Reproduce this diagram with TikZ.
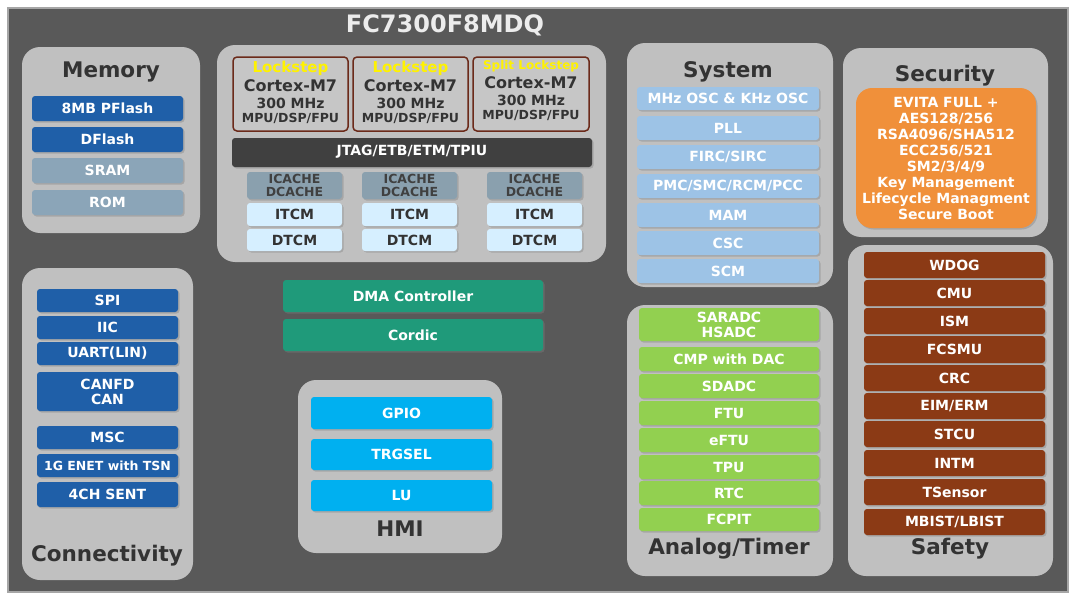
\documentclass[tikz,border=0pt]{standalone}
\usepackage{fontspec}
\setmainfont{DejaVu Sans}
\usetikzlibrary{shadows}
\definecolor{bgdark}{HTML}{595959}
\definecolor{panel}{HTML}{C0C0C0}
\definecolor{dblue}{HTML}{1F5FA8}
\definecolor{gblue}{HTML}{8BA5B8}
\definecolor{cache}{HTML}{8AA0AE}
\definecolor{tcm}{HTML}{D6EFFF}
\definecolor{teal}{HTML}{1F9A7A}
\definecolor{cyanb}{HTML}{00B0F0}
\definecolor{lblue}{HTML}{9DC3E6}
\definecolor{lgreen}{HTML}{92D050}
\definecolor{orng}{HTML}{F0903A}
\definecolor{brn}{HTML}{8B3A15}
\definecolor{corebd}{HTML}{6B2A1A}
\begin{document}
\begin{tikzpicture}[x=1pt,y=-1pt,
  pan/.style={fill=panel,rounded corners=18pt,draw=none},
  bx/.style={rounded corners=3pt,drop shadow={shadow xshift=1.5pt,shadow yshift=-1.5pt,opacity=.4},inner sep=0pt},
  ttl/.style={font=\bfseries\fontsize{21.5}{23}\selectfont,text=black!80},
  ct/.style={inner sep=0pt,text=black!80},
]
\useasboundingbox (0,0) rectangle (1080,605);
\fill[white] (0,0) rectangle (1080,605);
\draw[fill=bgdark,draw=gray!70,line width=1.5pt] (8,8) rectangle (1068,592);
\node[font=\bfseries\fontsize{24}{26}\selectfont,text=gray!15] (title) at (445,25) {FC7300F8MDQ};
\newcommand\bbox[8][14]{% size, name, x1,y1,x2,y2, fill, text
  \path[bx,fill=#7] (#3,#4) rectangle (#5,#6);
  \node[font=\bfseries\fontsize{#1}{15}\selectfont,text=white,align=center,inner sep=0pt] (#2) at ({(#3+#5)/2},{(#4+#6)/2}) {#8};}
% Memory
\fill[pan] (22,47) rectangle (200,233);
\node[ttl] (tmem) at (111,72) {Memory};
\bbox{m1}{32}{96}{183}{121}{dblue}{8MB PFlash}
\bbox{m2}{32}{127}{183}{152}{dblue}{DFlash}
\bbox{m3}{32}{158}{183}{183}{gblue}{SRAM}
\bbox{m4}{32}{190}{183}{215}{gblue}{ROM}
% Cores
\fill[pan] (217,45) rectangle (606,262);
\foreach \xa/\xb/\lab/\n/\ls/\o in {233/348/Lockstep/c1/15/0,353/468/Lockstep/c2/15/0,473/589/{Split Lockstep}/c3/12/-3}{
  \draw[fill=panel!90!white,draw=corebd,line width=1.5pt,rounded corners=4pt] (\xa,57) rectangle (\xb,131);
  \node[ct,text=yellow,font=\bfseries\fontsize{\ls}{16}\selectfont] (\n l) at ({(\xa+\xb)/2},{68+\o/2}) {\lab};
  \node[ct,font=\bfseries\fontsize{16}{17}\selectfont] (\n a) at ({(\xa+\xb)/2},{86+\o}) {Cortex-M7};
  \node[ct,font=\bfseries\fontsize{14}{15}\selectfont] (\n b) at ({(\xa+\xb)/2},{103+\o}) {300 MHz};
  \node[ct,font=\bfseries\fontsize{12.5}{14}\selectfont] (\n c) at ({(\xa+\xb)/2},{118+\o}) {MPU/DSP/FPU};
}
\path[bx,fill=black!75] (232,138) rectangle (592,167);
\node[font=\bfseries\fontsize{14}{15}\selectfont,text=white] (jtag) at (412,152) {JTAG/ETB/ETM/TPIU};
\foreach \xa/\xb/\i in {247/342/1,362/457/2,487/582/3}{
  \path[bx,fill=cache] (\xa,172) rectangle (\xb,199);
  \node[font=\bfseries\fontsize{12.5}{13}\selectfont,text=black!75,align=center,inner sep=0pt] (ic\i) at ({(\xa+\xb)/2},185.5) {ICACHE\\DCACHE};
  \path[bx,fill=tcm] (\xa,203) rectangle (\xb,226);
  \node[font=\bfseries\fontsize{14}{15}\selectfont,text=black!80] (it\i) at ({(\xa+\xb)/2},214.5) {ITCM};
  \path[bx,fill=tcm] (\xa,229) rectangle (\xb,251);
  \node[font=\bfseries\fontsize{14}{15}\selectfont,text=black!80] (dt\i) at ({(\xa+\xb)/2},240) {DTCM};
}
% Connectivity
\fill[pan] (22,268) rectangle (193,580);
\node[ttl] (tcon) at (107,556) {Connectivity};
\bbox{k1}{37}{289}{178}{312}{dblue}{SPI}
\bbox{k2}{37}{316}{178}{339}{dblue}{IIC}
\bbox{k3}{37}{342}{178}{365}{dblue}{UART(LIN)}
\bbox{k4}{37}{372}{178}{411}{dblue}{CANFD\\CAN}
\bbox{k5}{37}{426}{178}{449}{dblue}{MSC}
\bbox[12.5]{k6}{37}{454}{178}{477}{dblue}{1G ENET with TSN}
\bbox{k7}{37}{482}{178}{507}{dblue}{4CH SENT}
% DMA
\bbox{dma}{283}{280}{543}{312}{teal}{DMA Controller}
\bbox{cor}{283}{319}{543}{351}{teal}{Cordic}
% HMI
\fill[pan] (298,380) rectangle (502,553);
\node[ttl] (thmi) at (400,529) {HMI};
\bbox{h1}{311}{397}{492}{429}{cyanb}{GPIO}
\bbox{h2}{311}{439}{492}{470}{cyanb}{TRGSEL}
\bbox{h3}{311}{480}{492}{511}{cyanb}{LU}
% System
\fill[pan] (627,43) rectangle (833,287);
\node[ttl] (tsys) at (728,72) {System};
\bbox{s1}{637}{87}{819}{110}{lblue}{MHz OSC \& KHz OSC}
\bbox{s2}{637}{116}{819}{140}{lblue}{PLL}
\bbox{s3}{637}{145}{819}{169}{lblue}{FIRC/SIRC}
\bbox{s4}{637}{174}{819}{198}{lblue}{PMC/SMC/RCM/PCC}
\bbox{s5}{637}{203}{819}{227}{lblue}{MAM}
\bbox{s6}{637}{231}{819}{255}{lblue}{CSC}
\bbox{s7}{637}{259}{819}{283}{lblue}{SCM}
% Analog
\fill[pan] (627,305) rectangle (833,576);
\node[ttl] (tana) at (729,549) {Analog/Timer};
\bbox{a1}{639}{308}{819}{341}{lgreen}{SARADC\\HSADC}
\bbox{a2}{639}{347}{819}{371}{lgreen}{CMP with DAC}
\bbox{a3}{639}{374}{819}{398}{lgreen}{SDADC}
\bbox{a4}{639}{401}{819}{425}{lgreen}{FTU}
\bbox{a5}{639}{428}{819}{452}{lgreen}{eFTU}
\bbox{a6}{639}{455}{819}{479}{lgreen}{TPU}
\bbox{a7}{639}{481}{819}{505}{lgreen}{RTC}
\bbox{a8}{639}{508}{819}{531}{lgreen}{FCPIT}
% Security
\fill[pan] (843,48) rectangle (1048,237);
\node[ttl] (tsec) at (945,76) {Security};
\path[fill=orng,rounded corners=16pt,drop shadow={shadow xshift=1.5pt,shadow yshift=-1.5pt,opacity=.4}] (856,88) rectangle (1036,228);
\node[font=\bfseries\fontsize{14}{16}\selectfont,text=white,align=center,inner sep=0pt] (sec) at (946,158)
 {EVITA FULL +\\AES128/256\\RSA4096/SHA512\\ECC256/521\\SM2/3/4/9\\Key Management\\Lifecycle Managment\\Secure Boot};
% Safety
\fill[pan] (848,245) rectangle (1053,576);
\node[ttl] (tsaf) at (950,549) {Safety};
\bbox{f1}{864}{252}{1045}{278}{brn}{WDOG}
\bbox{f2}{864}{280}{1045}{306}{brn}{CMU}
\bbox{f3}{864}{308}{1045}{334}{brn}{ISM}
\bbox{f4}{864}{336}{1045}{363}{brn}{FCSMU}
\bbox{f5}{864}{365}{1045}{391}{brn}{CRC}
\bbox{f6}{864}{393}{1045}{419}{brn}{EIM/ERM}
\bbox{f7}{864}{421}{1045}{447}{brn}{STCU}
\bbox{f8}{864}{450}{1045}{476}{brn}{INTM}
\bbox{f9}{864}{479}{1045}{505}{brn}{TSensor}
\bbox{f10}{864}{509}{1045}{535}{brn}{MBIST/LBIST}
\end{tikzpicture}
\end{document}
